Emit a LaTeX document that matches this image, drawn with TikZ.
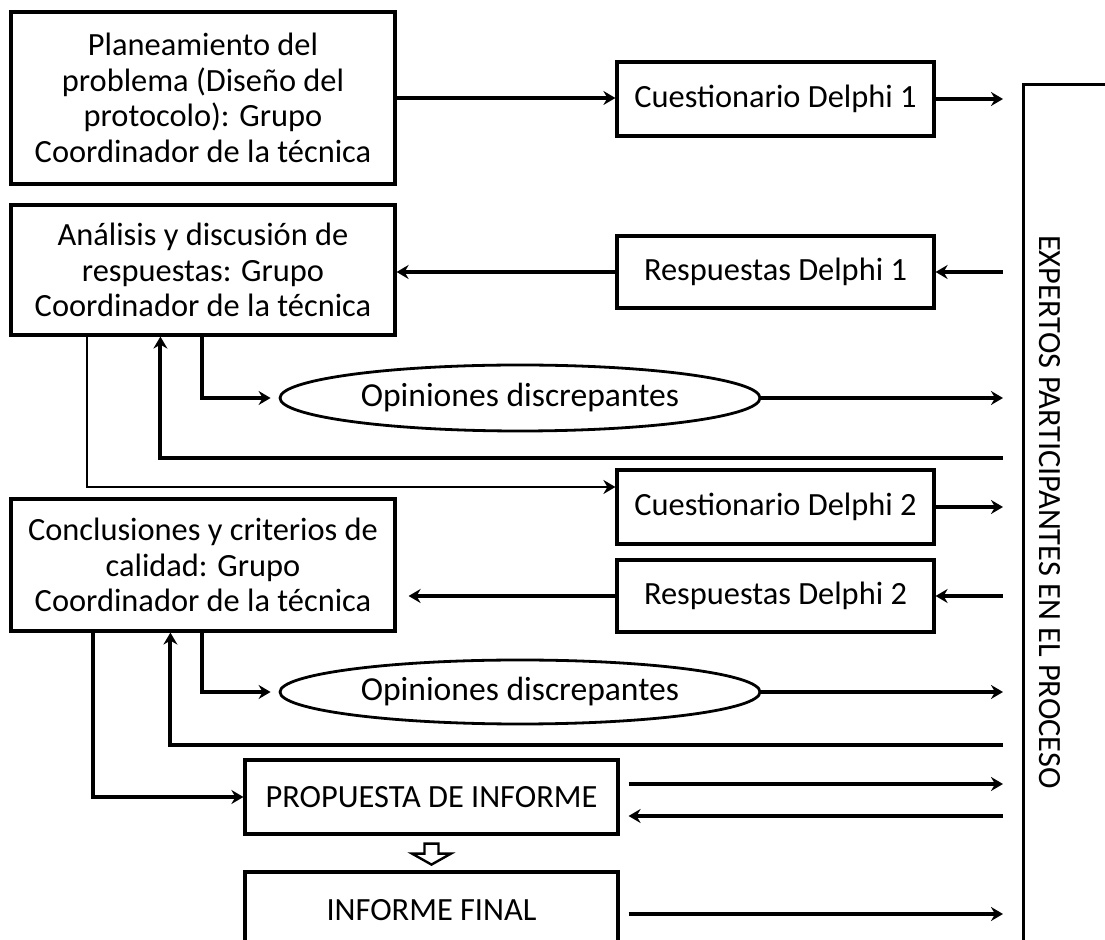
\documentclass[tikz,border=0pt]{standalone}
\usepackage{fontspec}
\setmainfont{Carlito}
\usetikzlibrary{arrows.meta,shapes.geometric}
\tikzstyle{caja}=[rectangle, draw=black, line width=1.6pt, align=center, inner sep=0pt, font=\fontsize{16.2}{17.8}\selectfont]
\tikzstyle{ovalo}=[ellipse, draw=black, line width=1.4pt, inner sep=0pt, font=\fontsize{16.8}{17.8}\selectfont]
\tikzstyle{flecha}=[line width=2pt, -{Stealth[length=6pt,width=7pt,inset=2pt]}]
\tikzstyle{fina}=[line width=1pt, -{Stealth[length=6pt,width=7pt,inset=2pt]}]

\begin{document}
\begin{tikzpicture}[x=0.5pt, y=-0.5pt]
	\clip (0,0) rectangle (1105,940);
	\node[caja, minimum width=192pt, minimum height=86pt] (plan) at (203,98) {Planeamiento del\\problema (Diseño del\\protocolo): Grupo\\Coordinador de la técnica};
	\node[caja, minimum width=192pt, minimum height=65pt] (analisis) at (203,270) {Análisis y discusión de\\respuestas: Grupo\\Coordinador de la técnica};
	\node[caja, minimum width=192pt, minimum height=66pt] (conc) at (203,565) {Conclusiones y criterios de\\calidad: Grupo\\Coordinador de la técnica};
	\node[caja, minimum width=158.5pt, minimum height=37pt] (cd1) at (775.5,99) {Cuestionario Delphi 1};
	\node[caja, minimum width=158.5pt, minimum height=36pt] (rd1) at (775.5,272) {Respuestas Delphi 1};
	\node[caja, minimum width=158.5pt, minimum height=37pt] (cd2) at (775.5,507) {Cuestionario Delphi 2};
	\node[caja, minimum width=158.5pt, minimum height=36pt] (rd2) at (775.5,596) {Respuestas Delphi 2};
	\node[ovalo, minimum width=240pt, minimum height=33pt] (op1) at (520,398) {Opiniones discrepantes};
	\node[ovalo, minimum width=240pt, minimum height=32pt] (op2) at (520,692) {Opiniones discrepantes};
	\node[caja, minimum width=186.5pt, minimum height=37pt] (prop) at (431.5,797) {PROPUESTA DE INFORME};
	\node[caja, minimum width=186.5pt, minimum height=38pt] (final) at (431.5,910) {INFORME FINAL};
	\node[caja, anchor=north west, minimum width=52pt, minimum height=440pt] (expbox) at (1022,83) {};
	\node[rotate=-90, font=\fontsize{16.2}{17.8}\selectfont] (expertos) at (1050,512) {EXPERTOS PARTICIPANTES EN EL PROCESO};
	\coordinate (ein) at (1003,0);

	\draw[flecha] (plan.east) -- (plan.east -| cd1.west);
	\draw[flecha] (cd1.east) -- (cd1.east -| ein);
	\draw[flecha] (rd1.east -| ein) -- (rd1.east);
	\draw[flecha] (rd1.west) -- (rd1.west -| analisis.east);
	\draw[fina] ([xshift=39pt]analisis.south west) |- ([yshift=10pt]cd2.west);
	\draw[flecha] ([xshift=96.5pt]analisis.south west) |- ([xshift=-4pt]op1.west);
	\draw[flecha] (op1.east) -- (op1.east -| ein);
	\draw[flecha] (ein |- 0,458) -| ([xshift=75.5pt]analisis.south west);

	\draw[flecha] (cd2.east) -- (cd2.east -| ein);
	\draw[flecha] (rd2.east -| ein) -- (rd2.east);
	\draw[flecha] (rd2.west) -- ([xshift=6pt]rd2.west -| conc.east);
	\draw[flecha] ([xshift=42pt]conc.south west) |- (prop.west);
	\draw[flecha] ([xshift=96.5pt]conc.south west) |- ([xshift=-4pt]op2.west);
	\draw[flecha] (op2.east) -- (op2.east -| ein);
	\draw[flecha] (ein |- 0,745) -| ([xshift=80.5pt]conc.south west);

	\coordinate (pa) at ([xshift=4.5pt,yshift=6.5pt]prop.east);
	\coordinate (pb) at ([xshift=4.5pt,yshift=-9.5pt]prop.east);
	\coordinate (fa) at ([xshift=4.5pt,yshift=-2pt]final.east);
	\draw[flecha] (pa) -- (pa -| ein);
	\draw[flecha] (pb -| ein) -- (pb);
	\draw[flecha] (fa) -- (fa -| ein);
	\draw[line width=1.2pt, line join=miter] ([yshift=-4pt]prop.south) ++(-3.5pt,0) -- ++(0,-5pt) -- ++(-6.25pt,0) -- ++(9.75pt,-5.5pt) -- ++(9.75pt,5.5pt) -- ++(-6.25pt,0) -- ++(0,5pt) -- cycle;
\end{tikzpicture}
\end{document}
